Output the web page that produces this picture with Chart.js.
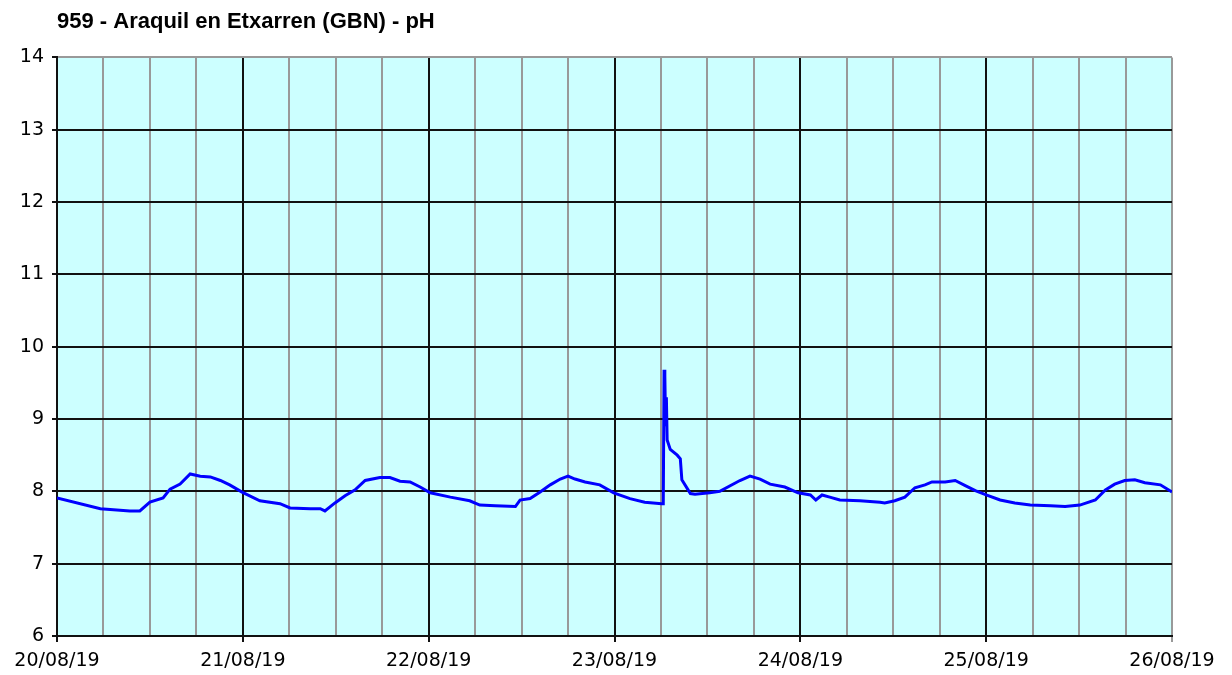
<!DOCTYPE html>
<html>
<head>
<meta charset="utf-8">
<script src="https://cdn.jsdelivr.net/npm/chart.js@4/dist/chart.umd.min.js"></script>
<style>
html,body{margin:0;padding:0;background:#fff;}
#wrap{width:1232px;height:675px;position:relative;}
</style>
</head>
<body>
<div id="wrap"><canvas id="c"></canvas></div>
<script>
const chartTitle = '959 - Araquil en Etxarren (GBN) - pH';
const dayLabels = ['20/08/19','21/08/19','22/08/19','23/08/19','24/08/19','25/08/19','26/08/19'];
// hours since 20/08/19 00:00
const hours = [0,5.6,9.4,10.7,12.0,13.7,14.6,15.9,17.2,18.5,19.8,21.1,22.3,23.9,26.2,28.8,30.1,32.7,34.0,34.6,35.9,37.2,38.5,39.8,41.7,43.0,44.3,45.6,46.9,48.2,50.8,53.3,54.6,56.6,59.2,59.8,61.1,62.4,63.7,65.0,66.0,66.9,68.2,70.1,71.9,74.0,75.9,78.1,78.3,78.4,78.5,78.6,78.7,78.8,78.9,79.2,80.1,80.5,80.7,81.8,82.4,84.3,85.6,88.2,89.5,90.8,92.1,94.0,95.7,97.3,98.0,98.8,99.8,101.1,103.7,106.3,106.9,108.2,109.5,110.8,112.1,113.0,114.7,116.0,117.3,118.6,120.0,121.8,123.7,125.7,128.3,130.2,132.1,134.1,135.4,136.6,137.9,139.2,140.5,142.5,144.0];
const ph = [7.91,7.76,7.73,7.73,7.85,7.91,8.03,8.10,8.24,8.21,8.20,8.15,8.09,7.99,7.87,7.83,7.77,7.76,7.76,7.73,7.84,7.94,8.02,8.15,8.19,8.19,8.14,8.13,8.06,7.98,7.92,7.87,7.81,7.80,7.79,7.88,7.90,7.99,8.09,8.17,8.21,8.17,8.13,8.09,7.98,7.90,7.85,7.83,7.83,9.68,9.60,8.90,9.30,8.71,8.71,8.58,8.50,8.45,8.16,7.97,7.96,7.98,8.00,8.15,8.21,8.17,8.10,8.06,7.98,7.95,7.88,7.95,7.92,7.88,7.87,7.85,7.84,7.87,7.92,8.05,8.09,8.13,8.13,8.15,8.08,8.01,7.95,7.88,7.84,7.81,7.80,7.79,7.81,7.88,8.02,8.10,8.15,8.16,8.12,8.09,7.99];
const yTicks = [6,7,8,9,10,11,12,13,14];

const points = hours.map((h,i)=>({x:h,y:ph[i]}));

const bgPlugin = {
  id:'bg',
  beforeDraw(chart){
    const {ctx, chartArea:a} = chart;
    ctx.save();
    ctx.fillStyle = '#CCFFFF';
    ctx.fillRect(a.left, a.top, a.right-a.left, a.bottom-a.top);
    ctx.restore();
  }
};

const BLACK = '#111111', GRAY = '#999999';

new Chart(document.getElementById('c'), {
  type:'line',
  data:{datasets:[{data:points,borderColor:'#0000FF',borderWidth:3,pointRadius:0,tension:0,fill:false}]},
  options:{
    responsive:true, maintainAspectRatio:false, animation:false,
    layout:{padding:{top:6,right:60,bottom:0,left:0}},
    plugins:{
      legend:{display:false}, tooltip:{enabled:false},
      title:{display:true,text:chartTitle,align:'start',fullSize:false,color:'#000',
        font:{family:'Liberation Sans',size:22,weight:'bold'},padding:{top:3,bottom:22}}
    },
    scales:{
      x:{type:'linear',min:0,max:144,
        afterFit(s){s.height=39;},
        afterBuildTicks(s){s.ticks=[];for(let v=0;v<=144;v+=6)s.ticks.push({value:v});},
        ticks:{autoSkip:false,maxRotation:0,minRotation:0,padding:8,color:'#000',
          font:{family:'DejaVu Sans',size:19},
          callback:(v)=> (v%24===0 ? dayLabels[v/24] : '')},
        grid:{drawTicks:true,tickLength:6,lineWidth:2,
          color:(c)=>{const v=c.tick&&c.tick.value; if(v===144) return GRAY; return v%24===0?BLACK:GRAY;},
          tickColor:(c)=>{const v=c.tick&&c.tick.value; if(v===144) return GRAY; return v%24===0?BLACK:'rgba(0,0,0,0)';}},
        border:{display:true,color:BLACK,width:2}
      },
      y:{type:'linear',min:6,max:14,
        afterFit(s){s.width=57;},
        afterBuildTicks(s){s.ticks=yTicks.map(v=>({value:v}));},
        ticks:{padding:8,color:'#000',font:{family:'DejaVu Sans',size:19}},
        grid:{tickLength:5,lineWidth:2,
          color:(c)=>{const v=c.tick&&c.tick.value; return v===14?GRAY:BLACK;},
          tickColor:BLACK},
        border:{display:true,color:BLACK,width:2}
      }
    }
  },
  plugins:[bgPlugin]
});
</script>
</body>
</html>
